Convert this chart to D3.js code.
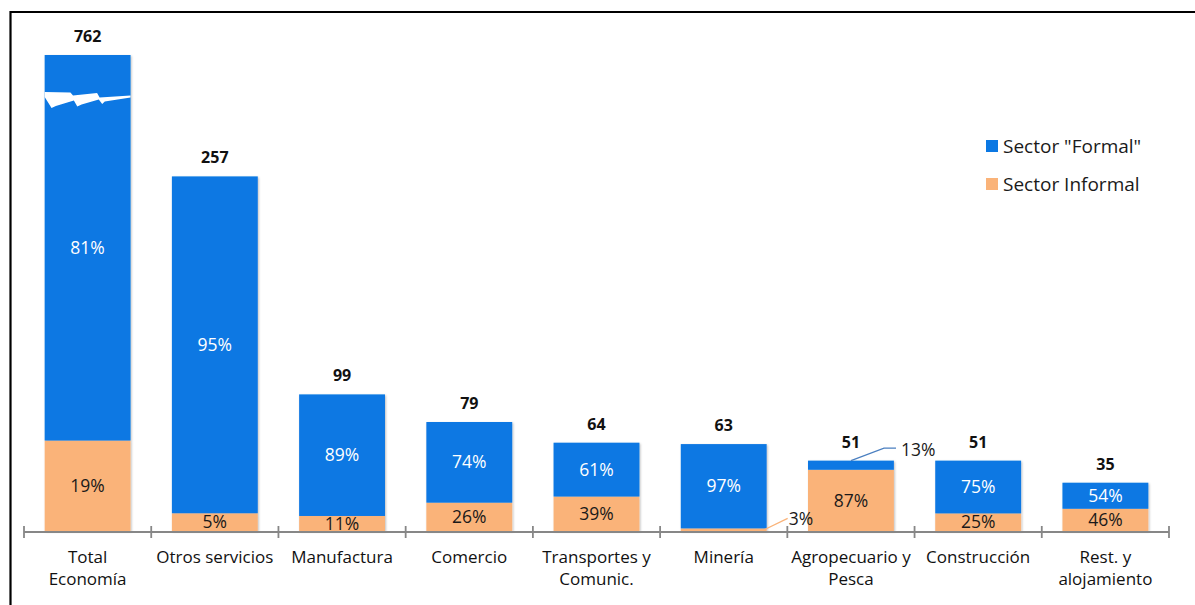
<!DOCTYPE html>
<html>
<head>
<meta charset="utf-8">
<script src="https://cdn.jsdelivr.net/npm/d3@7"></script>
<style>
  body { margin: 0; background: #fff; }
  svg { display: block; font-family: "Open Sans", Lato, sans-serif; }
</style>
</head>
<body>
<svg id="chart" width="1195" height="605"></svg>
<script>
// data
var categories = ["Total Economía", "Otros servicios", "Manufactura", "Comercio",
  "Transportes y Comunic.", "Minería", "Agropecuario y Pesca", "Construcción", "Rest. y alojamiento"];
var categoryLines = [["Total", "Economía"], ["Otros servicios"], ["Manufactura"], ["Comercio"],
  ["Transportes y", "Comunic."], ["Minería"], ["Agropecuario y", "Pesca"], ["Construcción"], ["Rest. y", "alojamiento"]];
var totals = [762, 257, 99, 79, 64, 63, 51, 51, 35];
var formalPct = [81, 95, 89, 74, 61, 97, 13, 75, 54];
var informalPct = [19, 5, 11, 26, 39, 3, 87, 25, 46];
var seriesNames = ['Sector "Formal"', "Sector Informal"];
var breakCap = 345;   // the Total bar is cut (broken axis) at this height

var blue = "#0b78e3", orange = "#fab379";

var svg = d3.select("#chart");
var axisY = 531;

var x = d3.scaleBand()
  .domain(categories)
  .range([24, 1169])
  .paddingInner(0.325)
  .paddingOuter(0.1625);

var y = d3.scaleLinear()
  .domain([0, breakCap])
  .range([axisY, 55]);

var rows = categories.map(function (c, i) {
  var shown = Math.min(totals[i], breakCap);
  return {
    cat: c, total: totals[i], shown: shown,
    inf: shown * informalPct[i] / 100,
    fPct: formalPct[i], iPct: informalPct[i], lines: categoryLines[i]
  };
});

// frame
svg.append("path")
  .attr("d", "M10.5,605 L10.5,12 L1195,12")
  .attr("fill", "none")
  .attr("stroke", "#000")
  .attr("stroke-width", 2.2);

var defs = svg.append("defs");
var f = defs.append("filter").attr("id", "sh").attr("x", "-5%").attr("y", "-5%").attr("width", "115%").attr("height", "115%");
f.append("feDropShadow").attr("dx", 1).attr("dy", 1).attr("stdDeviation", 0.8)
  .attr("flood-color", "#000").attr("flood-opacity", 0.25);

var bars = svg.append("g").attr("filter", "url(#sh)");

// informal (bottom)
bars.selectAll(".inf")
  .data(rows).enter()
  .append("rect")
  .attr("x", d => x(d.cat))
  .attr("width", x.bandwidth())
  .attr("y", d => y(d.inf))
  .attr("height", d => axisY - y(d.inf))
  .attr("fill", orange);

// formal (top)
bars.selectAll(".for")
  .data(rows).enter()
  .append("rect")
  .attr("x", d => x(d.cat))
  .attr("width", x.bandwidth())
  .attr("y", d => y(d.shown))
  .attr("height", d => y(d.inf) - y(d.shown))
  .attr("fill", blue);

// break mark on the Total bar
var b0 = x(categories[0]), bw = x.bandwidth();
var brk = [[0, 92], [0.30, 92.5], [0.33, 95.5], [0.61, 93], [0.64, 97.5], [1, 95.5],
  [1, 97.5], [0.70, 101.5], [0.67, 104], [0.63, 99.5], [0.43, 104.5], [0.38, 106.5], [0.34, 100.5],
  [0.13, 106], [0.08, 108], [0, 97]];
svg.append("polygon")
  .attr("points", brk.map(p => (b0 + p[0] * bw) + "," + p[1]).join(" "))
  .attr("fill", "#fff");

// axis
var step = x.step(), gap = step - bw;
var tickXs = categories.map(c => x(c) - gap / 2).concat([x(categories[categories.length - 1]) + bw + gap / 2]);
var axis = svg.append("g").attr("stroke", "#878787").attr("stroke-width", 1.8);
axis.append("line")
  .attr("x1", tickXs[0]).attr("x2", tickXs[tickXs.length - 1])
  .attr("y1", axisY + 1).attr("y2", axisY + 1);
axis.selectAll(".tk").data(tickXs).enter()
  .append("line")
  .attr("x1", d => d).attr("x2", d => d)
  .attr("y1", axisY - 5).attr("y2", axisY + 7);

// category labels
var catG = svg.append("g")
  .attr("font-size", "17px")
  .attr("fill", "#111")
  .attr("text-anchor", "middle");
rows.forEach(function (d) {
  d.lines.forEach(function (ln, j) {
    catG.append("text")
      .attr("x", x(d.cat) + bw / 2)
      .attr("y", 563 + j * 22)
      .text(ln);
  });
});

// totals on top
svg.append("g").selectAll("text")
  .data(rows).enter()
  .append("text")
  .attr("x", d => x(d.cat) + bw / 2)
  .attr("y", d => y(d.shown) - 13)
  .attr("text-anchor", "middle")
  .attr("font-size", "16px")
  .attr("font-weight", "bold")
  .attr("fill", "#111")
  .text(d => d.total);

// percent labels inside segments
var pctSize = "17.5px";
var inside = rows.filter(d => d.fPct > 20);
svg.append("g").selectAll("text")
  .data(inside).enter()
  .append("text")
  .attr("x", d => x(d.cat) + bw / 2)
  .attr("y", d => (y(d.shown) + y(d.inf)) / 2)
  .attr("dy", "0.35em")
  .attr("text-anchor", "middle")
  .attr("font-size", pctSize)
  .attr("fill", "#fff")
  .text(d => d.fPct + "%");

var insideInf = rows.filter(d => d.iPct > 4);
svg.append("g").selectAll("text")
  .data(insideInf).enter()
  .append("text")
  .attr("x", d => x(d.cat) + bw / 2)
  .attr("y", d => (axisY + y(d.inf)) / 2)
  .attr("dy", "0.35em")
  .attr("text-anchor", "middle")
  .attr("font-size", pctSize)
  .attr("fill", "#1a1a1a")
  .text(d => d.iPct + "%");

// callouts for tiny segments
var mi = rows[5], ag = rows[6];
var miX = x(mi.cat) + bw;
svg.append("polyline")
  .attr("points", [[miX - 3, axisY - 1], [miX + 21, y(mi.inf) - 10]].join(" "))
  .attr("fill", "none").attr("stroke", orange).attr("stroke-width", 1.3);
svg.append("text")
  .attr("x", miX + 22).attr("y", 519).attr("dy", "0.35em")
  .attr("font-size", pctSize).attr("fill", "#1a1a1a")
  .text(mi.iPct + "%");

var agX = x(ag.cat);
var agTop = y(ag.shown);
svg.append("polyline")
  .attr("points", [[agX + 43, agTop], [agX + 76, agTop - 12.5], [agX + 88, agTop - 12.5]].join(" "))
  .attr("fill", "none").attr("stroke", "#4a7fc0").attr("stroke-width", 1.2);
svg.append("text")
  .attr("x", agX + 93).attr("y", agTop - 11).attr("dy", "0.35em")
  .attr("font-size", pctSize).attr("fill", "#1a1a1a")
  .text(ag.fPct + "%");

// legend
var legend = svg.append("g").attr("transform", "translate(986,140)");
var lg = legend.selectAll("g").data(seriesNames).enter()
  .append("g").attr("transform", (d, i) => "translate(0," + i * 38 + ")");
lg.append("rect").attr("width", 12).attr("height", 12)
  .attr("fill", (d, i) => i === 0 ? blue : orange);
lg.append("text")
  .attr("x", 17).attr("y", 6).attr("dy", "0.35em")
  .attr("font-size", "19px").attr("fill", "#1a1a1a")
  .text(d => d);
</script>
</body>
</html>
